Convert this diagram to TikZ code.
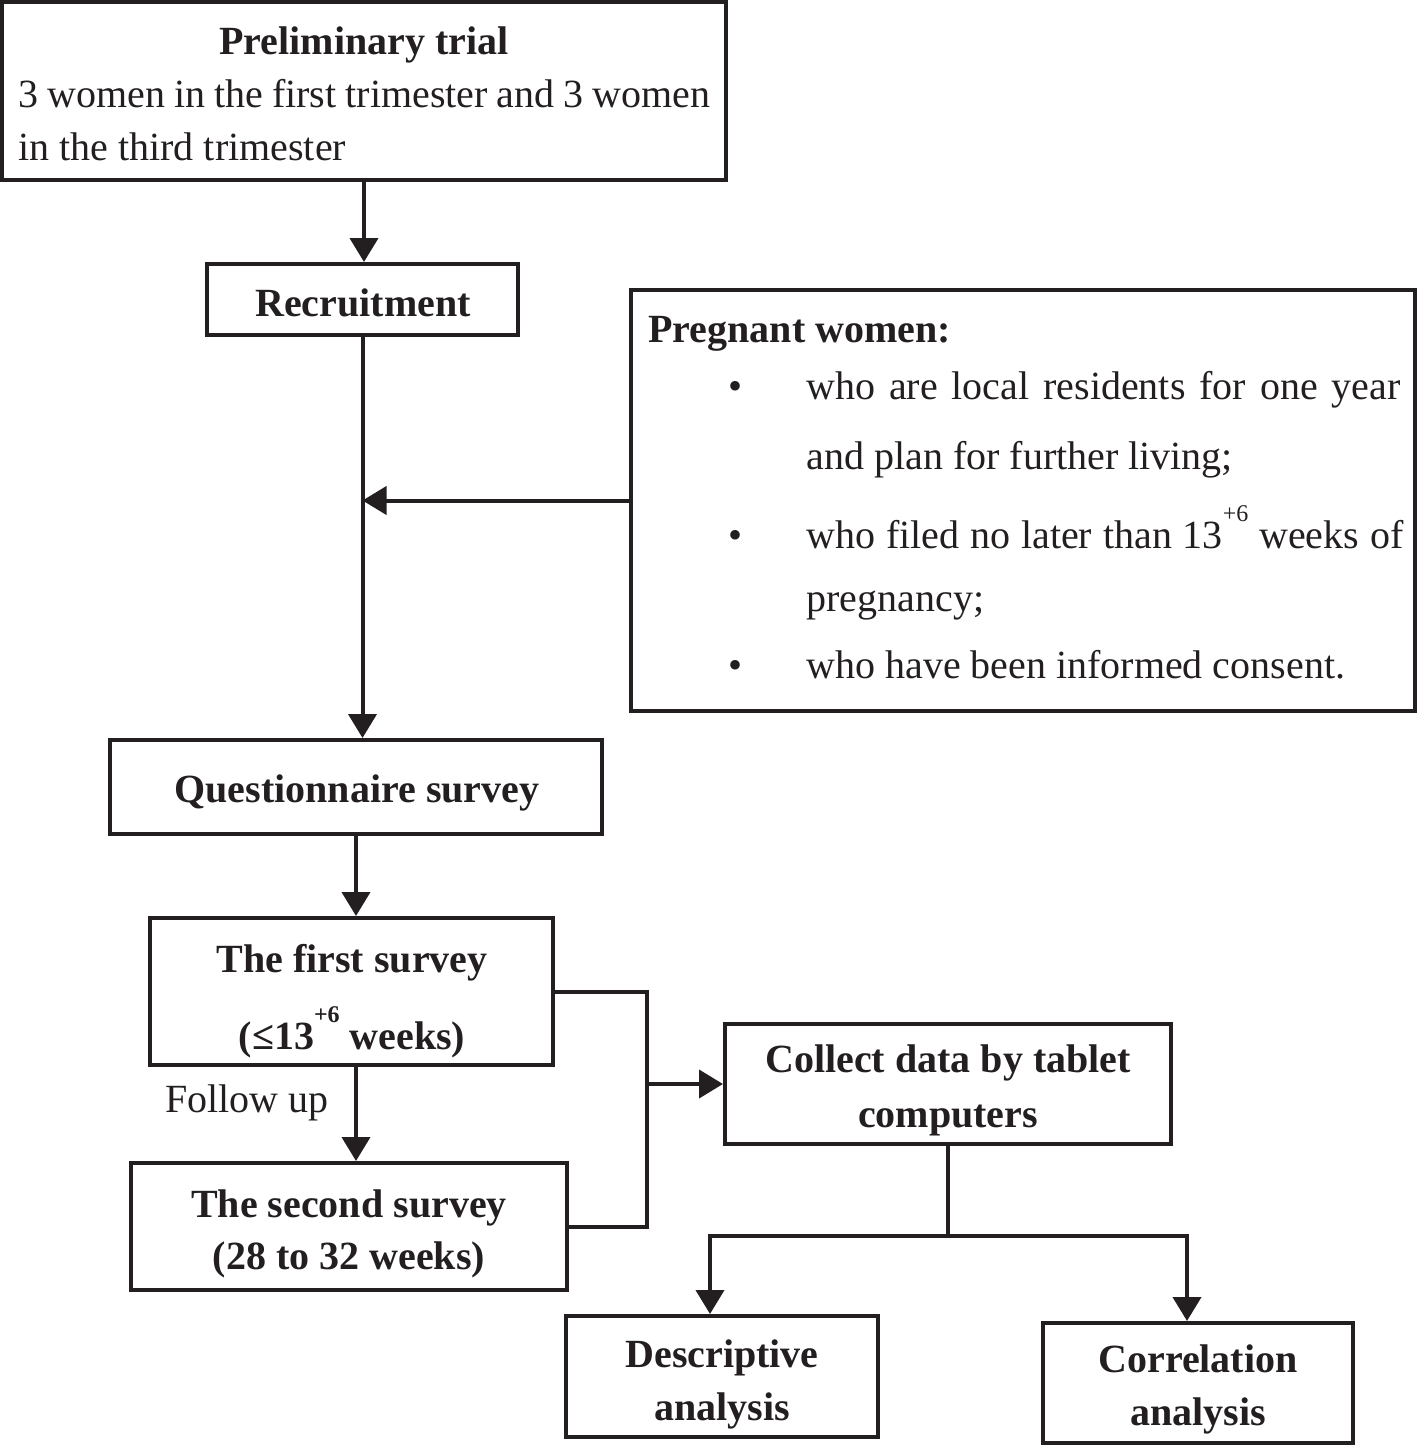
\documentclass[tikz,border=0pt]{standalone}
\usepackage{fontspec}
\setmainfont{Liberation Serif}
\usetikzlibrary{arrows.meta,fit}
\definecolor{ink}{HTML}{231F20}
\newcommand{\supsix}[1]{\raisebox{13.5pt}{\fontsize{12}{12}\selectfont #1}}
\begin{document}
\begin{tikzpicture}[x=0.5pt,y={(0,-0.5pt)},
  box/.style={draw=ink, line width=2pt, inner sep=0pt},
  conn/.style={draw=ink, line width=2pt},
  arr/.style={conn, -{Triangle[length=12pt,width=14pt]}},
  txt/.style={text=ink, font=\fontsize{20}{26}\selectfont, inner sep=0pt, anchor=base},
  btxt/.style={txt, font=\fontsize{20}{26}\selectfont\bfseries},
  bul/.style={txt, anchor=base}]
\useasboundingbox (0,0) rectangle (1417,1446);

% boxes
\node[box, fit={(2,2)(726,180)}] (prelim) {};
\node[box, fit={(207,264)(518,335)}] (rec) {};
\node[box, fit={(631,290)(1415,711)}] (preg) {};
\node[box, fit={(110,740)(602,834)}] (quest) {};
\node[box, fit={(150,918)(553,1065)}] (first) {};
\node[box, fit={(131,1163)(567,1290)}] (second) {};
\node[box, fit={(725,1024)(1171,1144)}] (collect) {};
\node[box, fit={(566,1316)(878,1437)}] (desc) {};
\node[box, fit={(1043,1323)(1353,1443)}] (corr) {};

% texts
\node[btxt] (prelimT) at (364,54) {Preliminary trial};
\node[txt, anchor=base west] (prelimA) at (18,107) {\makebox[346pt][s]{3 women in the first trimester and 3 women}};
\node[txt, anchor=base west] (prelimB) at (18,160) {in the third trimester};

\node[btxt] (recT) at (363,316) {Recruitment};

\node[btxt, anchor=base west] (pregT) at (648,342) {Pregnant women:};
\node[bul] (b1) at (735,399) {•};
\node[txt, anchor=base west] (p1) at (806,399) {\makebox[297pt][s]{who are local residents for one year}};
\node[txt, anchor=base west] (p2) at (806,469) {and plan for further living;};
\node[bul] (b2) at (735,548) {•};
\node[txt, anchor=base west] (p3) at (806,548) {\makebox[298.5pt][s]{who filed no later than 13\supsix{+6} weeks of}};
\node[txt, anchor=base west] (p4) at (806,611) {pregnancy;};
\node[bul] (b3) at (735,678) {•};
\node[txt, anchor=base west] (p5) at (806,678) {who have been informed consent.};

\node[btxt] (questT) at (357,802) {Questionnaire survey};

\node[btxt] (firstA) at (352,972) {The first survey};
\node[btxt] (firstB) at (352,1049) {(≤13\supsix{+6} weeks)};

\node[txt, anchor=base west] (follow) at (165,1112) {Follow up};

\node[btxt] (secondA) at (349,1217) {The second survey};
\node[btxt] (secondB) at (349,1269) {(28 to 32 weeks)};

\node[btxt] (collA) at (948,1072) {Collect data by tablet};
\node[btxt] (collB) at (948,1127) {computers};

\node[btxt] (descA) at (722,1367) {Descriptive};
\node[btxt] (descB) at (722,1420) {analysis};

\node[btxt] (corrA) at (1198,1372) {Correlation};
\node[btxt] (corrB) at (1198,1425) {analysis};

% connectors
\draw[arr] (prelim.south) -- (prelim.south |- rec.north);
\draw[arr] (rec.south) -- (rec.south |- quest.north);
\coordinate (join) at (rec.south |- preg.west);
\draw[arr] (preg.west) -- (join);
\draw[arr] (quest.south) -- (quest.south |- first.north);
\draw[arr] (quest.south |- first.south) -- (quest.south |- second.north);
\coordinate (bx) at (647,0);
\draw[conn] (first.east) -| (bx |- second.east) -- (second.east);
\draw[arr] (bx |- collect.west) -- (collect.west);
\coordinate (split) at (collect.south |- 0,1236);
\coordinate (dL) at (710,0);
\coordinate (dR) at (1187,0);
\draw[conn] (collect.south) -- (split);
\draw[arr] (split) -| (dL |- desc.north);
\draw[arr] (split) -| (dR |- corr.north);
\end{tikzpicture}
\end{document}
